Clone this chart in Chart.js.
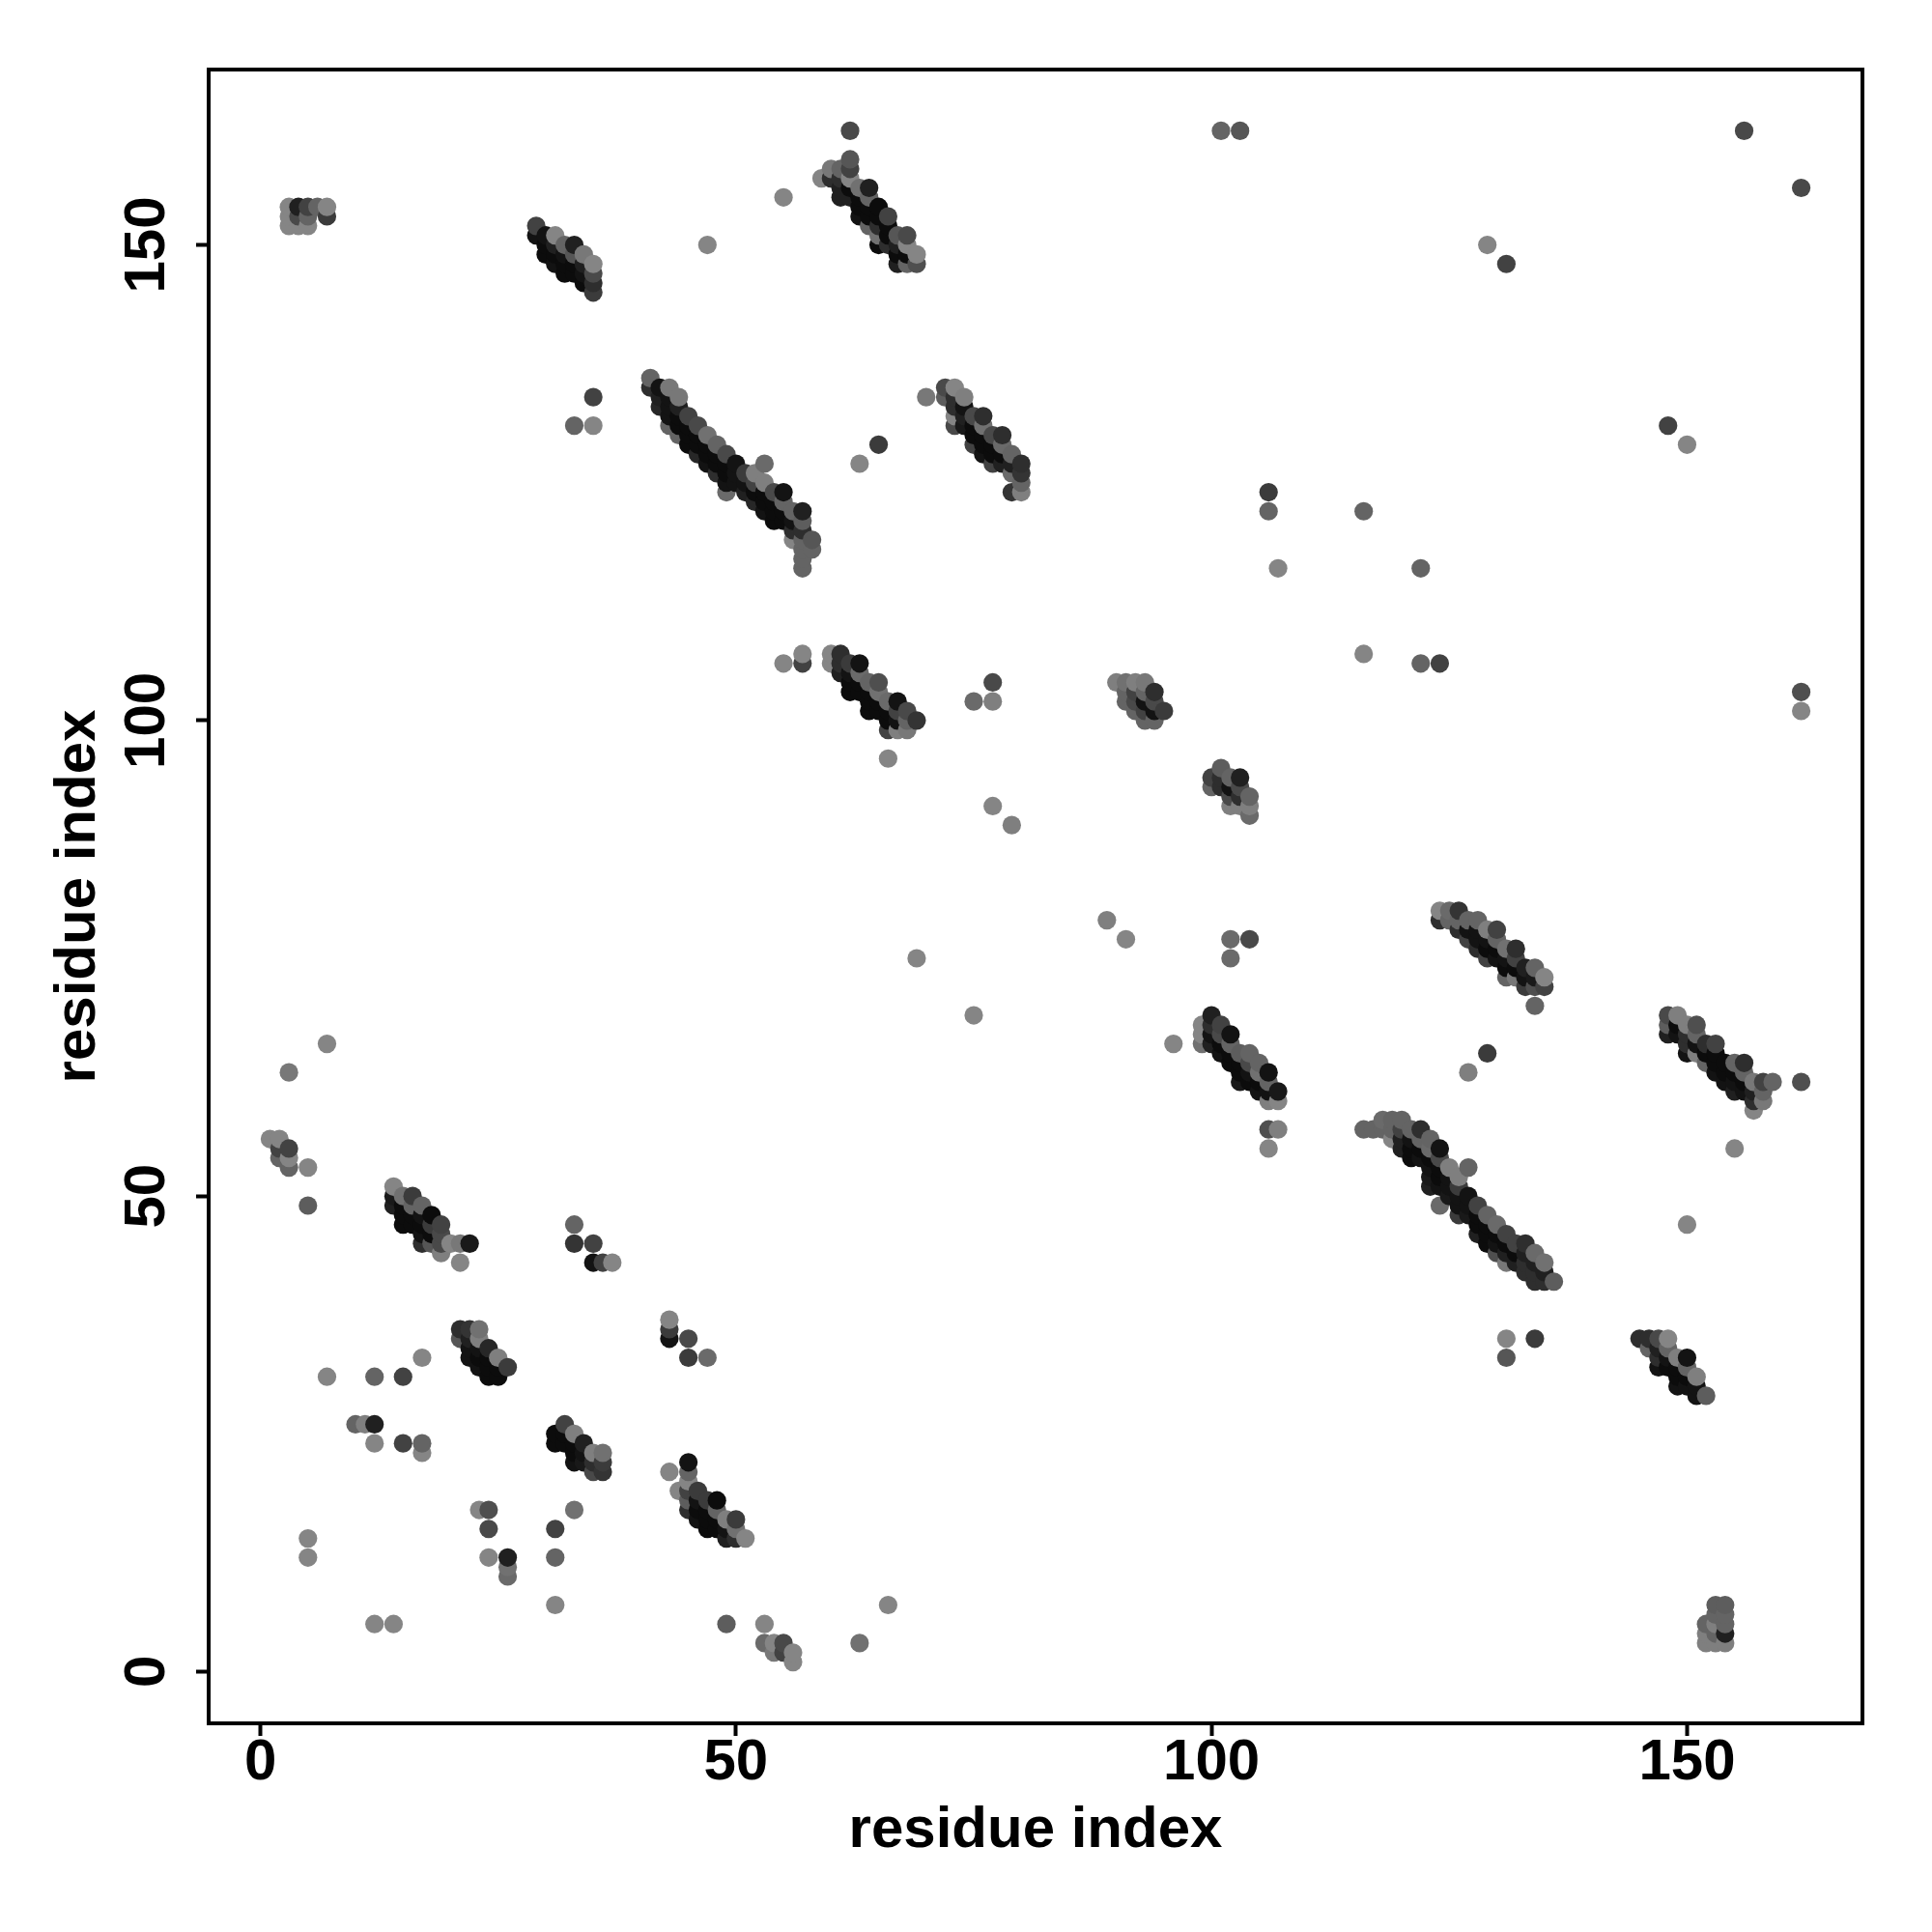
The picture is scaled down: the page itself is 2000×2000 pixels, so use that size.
<!DOCTYPE html>
<html>
<head>
<meta charset="utf-8">
<title>residue contact map</title>
<script src="https://cdn.jsdelivr.net/npm/chart.js@4"></script>
<style>
  html, body { margin: 0; background: #fff; }
  canvas { display: block; }
</style>
</head>
<body>
<canvas id="chart" width="2000" height="2000"></canvas>
<script>
// contacts as [residue x, residue y, score], score 0 = faint, 1 = strong
const tickValues = [0, 50, 100, 150];
const axisLabel = 'residue index';

const strandTopLeft = [[3,154,.05],[3,153,.05],[3,152,.05],[4,154,.8],[4,153,.5],[4,152,.05],[5,154,.55],[5,153,.3],[5,152,.05],[6,154,.3],[7,154,.05],[7,153,.6]];
const strandA = [[29,152,.55],[29,151,.9],[30,151,.9],[30,150,.95],[30,149,.95],[31,151,.05],[31,150,.8],[31,149,.95],[31,148,.9],[32,150,.3],[32,149,.9],[32,148,.95],[32,147,.95],[33,150,.8],[33,149,.4],[33,148,.95],[33,147,.95],[34,149,.15],[34,148,.8],[34,147,.9],[34,146,.95],[35,148,.05],[35,147,.5],[35,146,.7],[35,145,.6]];
const strandTop = [[59,157,.05],[60,158,.15],[60,157,.7],[61,158,.3],[61,157,.7],[61,156,.8],[61,155,.8],[62,159,.4],[62,158,.55],[62,157,.05],[62,156,.95],[62,155,.8],[63,156,.2],[63,155,.95],[63,154,.95],[63,153,.9],[64,156,.8],[64,155,.3],[64,154,.95],[64,153,.95],[64,152,.3],[65,154,.95],[65,153,.95],[65,152,.7],[65,151,.2],[65,150,.95],[66,153,.55],[66,152,.95],[66,151,.95],[66,150,.7],[67,151,.4],[67,150,.8],[67,149,.95],[67,148,.8],[68,151,.5],[68,150,.05],[68,149,.95],[68,148,.3],[69,149,.05],[69,148,.45]];
const strandF = [[41,136,.3],[41,135,.7],[42,135,.9],[42,134,.8],[42,133,.75],[43,135,.15],[43,134,.9],[43,133,.9],[43,132,.9],[43,131,.3],[44,134,.15],[44,133,.8],[44,132,.95],[44,131,.95],[44,130,.3],[45,132,.55],[45,131,.95],[45,130,.95],[45,129,.95],[46,131,.5],[46,130,.95],[46,129,.95],[46,128,.75],[47,130,.2],[47,129,.95],[47,128,.95],[47,127,.9],[48,129,.3],[48,128,.95],[48,127,.95],[48,126,.7],[49,128,.5],[49,127,.95],[49,126,.95],[49,125,.9],[49,124,.25],[50,127,.9],[50,126,.9],[50,125,.9],[51,126,.6],[51,125,.9],[51,124,.8],[52,126,.1],[52,125,.55],[52,124,.95],[52,123,.75],[53,127,.25],[53,125,.1],[53,124,.95],[53,123,.95],[53,122,.9],[54,124,.5],[54,123,.95],[54,122,.95],[54,121,.95],[55,124,.9],[55,123,.3],[55,122,.95],[55,121,.95],[56,122,.3],[56,121,.9],[56,120,.7],[56,119,.05],[57,122,.8],[57,121,.35],[57,120,.7],[57,119,.3],[57,118,.3],[57,117,.3],[57,116,.3],[58,119,.4],[58,118,.3]];
const strandG = [[72,135,.5],[72,134,.35],[73,135,.05],[73,134,.7],[73,133,.7],[73,132,.05],[73,131,.5],[74,134,.1],[74,133,.9],[74,132,.8],[74,131,.85],[75,132,.5],[75,131,.95],[75,130,.95],[75,129,.55],[76,132,.7],[76,131,.2],[76,130,.95],[76,129,.95],[76,128,.9],[77,130,.5],[77,129,.95],[77,128,.95],[77,127,.55],[78,130,.7],[78,129,.25],[78,128,.95],[78,127,.8],[79,128,.3],[79,127,.8],[79,126,.25],[79,124,.65],[80,127,.7],[80,126,.65],[80,125,.3],[80,124,.1]];
const strandH = [[60,107,.05],[60,106,.05],[61,107,.7],[61,106,.7],[61,105,.8],[62,106,.6],[62,105,.9],[62,104,.95],[62,103,.95],[63,106,.9],[63,105,.25],[63,104,.95],[63,103,.95],[64,104,.3],[64,103,.95],[64,102,.95],[64,101,.95],[65,104,.45],[65,103,.2],[65,102,.95],[65,101,.95],[66,102,.25],[66,101,.95],[66,100,.95],[66,99,.55],[67,102,.9],[67,101,.55],[67,100,.9],[67,99,.1],[68,101,.5],[68,100,.3],[68,99,.15],[69,100,.65]];
const strandI = [[90,104,.1],[91,104,.2],[91,103,.3],[91,102,.3],[92,104,.1],[92,103,.55],[92,102,.5],[92,101,.3],[93,104,.15],[93,103,.3],[93,102,.9],[93,101,.55],[93,100,.3],[94,103,.7],[94,102,.5],[94,101,.9],[94,100,.3],[95,101,.6]];
const strandK = [[100,94,.55],[100,93,.3],[101,95,.35],[101,94,.7],[101,93,.7],[102,94,.3],[102,93,.9],[102,92,.5],[102,91,.1],[103,94,.8],[103,93,.5],[103,92,.7],[103,91,.1],[104,92,.3],[104,91,.1],[104,90,.25]];
const strandL = [[99,68,.05],[99,67,.05],[99,66,.2],[100,69,.8],[100,68,.7],[100,67,.9],[100,66,.8],[101,68,.55],[101,67,.5],[101,66,.95],[101,65,.9],[102,67,.9],[102,66,.3],[102,65,.95],[102,64,.95],[103,65,.35],[103,64,.95],[103,63,.95],[103,62,.85],[104,65,.3],[104,64,.5],[104,63,.9],[104,62,.95],[105,64,.3],[105,63,.2],[105,62,.95],[105,61,.9],[106,63,.9],[106,62,.3],[106,61,.9],[106,60,.1],[107,61,.85],[107,60,.05]];
const strandM = [[124,80,.05],[124,79,.7],[125,80,.25],[125,79,.3],[126,80,.65],[126,79,.3],[126,78,.7],[127,79,.3],[127,78,.9],[127,77,.55],[128,79,.3],[128,78,.9],[128,77,.9],[128,76,.7],[129,78,.1],[129,77,.9],[129,76,.95],[129,75,.55],[130,78,.55],[130,77,.3],[130,76,.95],[130,75,.9],[131,76,.2],[131,75,.9],[131,74,.95],[131,73,.3],[132,76,.7],[132,75,.55],[132,74,.95],[132,73,.15],[133,74,.8],[133,73,.9],[133,72,.6],[134,74,.3],[134,73,.85],[134,72,.45],[134,70,.3],[135,73,.05],[135,72,.55]];
const strandN = [[116,57,.3],[117,57,.3],[118,58,.25],[118,57,.3],[119,58,.3],[119,57,.3],[119,56,.05],[120,58,.3],[120,57,.55],[120,56,.8],[120,55,.8],[121,57,.3],[121,56,.9],[121,55,.95],[121,54,.95],[122,57,.7],[122,56,.3],[122,55,.95],[122,54,.9],[123,56,.3],[123,55,.25],[123,54,.95],[123,53,.9],[123,52,.85],[123,51,.8],[124,55,.9],[124,54,.5],[124,53,.95],[124,52,.95],[124,51,.9],[124,49,.25],[125,53,.1],[125,52,.9],[125,51,.9],[125,50,.85],[126,52,.1],[126,51,.6],[126,50,.9],[126,49,.9],[126,48,.6],[127,53,.3],[127,50,.9],[127,49,.9],[127,48,.85],[128,49,.55],[128,48,.95],[128,47,.95],[128,46,.8],[129,48,.3],[129,47,.95],[129,46,.95],[129,45,.95],[130,47,.25],[130,46,.95],[130,45,.9],[130,44,.45],[131,46,.55],[131,45,.95],[131,44,.8],[131,43,.15],[132,45,.55],[132,44,.95],[132,43,.8],[133,45,.7],[133,44,.8],[133,43,.7],[133,42,.7],[134,44,.25],[134,43,.8],[134,42,.7],[134,41,.7],[135,43,.2],[135,42,.8],[135,41,.7],[136,41,.35]];
const strandO = [[145,35,.7],[146,35,.7],[146,34,.3],[147,35,.5],[147,34,.8],[147,33,.7],[147,32,.9],[148,35,.05],[148,34,.3],[148,33,.9],[148,32,.95],[149,33,.1],[149,32,.95],[149,31,.95],[149,30,.9],[150,33,.9],[150,32,.3],[150,31,.95],[150,30,.9],[151,31,.1],[151,30,.9],[151,29,.9],[152,29,.35]];
const strandP = [[148,69,.5],[148,68,.35],[148,67,.8],[149,69,.1],[149,68,.95],[149,67,.9],[150,68,.1],[150,67,.7],[150,66,.7],[150,65,.9],[151,68,.45],[151,67,.3],[151,66,.9],[151,65,.1],[152,66,.7],[152,65,.95],[152,64,.3],[153,66,.55],[153,65,.95],[153,64,.95],[153,63,.9],[154,64,.95],[154,63,.95],[154,62,.9],[155,64,.3],[155,63,.95],[155,62,.9],[155,61,.8],[156,64,.7],[156,63,.3],[156,62,.95],[156,61,.9],[157,62,.15],[157,61,.8],[157,60,.7],[157,59,.05],[158,62,.55],[158,61,.3],[158,60,.15],[159,62,.3]];
const strandB = [[14,51,.05],[14,50,.85],[14,49,.8],[15,50,.2],[15,49,.95],[15,48,.95],[15,47,.95],[16,50,.6],[16,49,.3],[16,48,.95],[16,47,.95],[17,49,.3],[17,48,.9],[17,47,.95],[17,46,.9],[17,45,.7],[18,48,.95],[18,47,.6],[18,46,.95],[18,45,.4],[19,47,.55],[19,46,.5],[19,45,.5],[19,44,.1],[20,45,.05],[21,45,.15],[21,43,.05],[22,45,.85]];
const strandC = [[21,36,.7],[21,35,.4],[22,36,.65],[22,35,.8],[22,34,.9],[22,33,.9],[23,36,.2],[23,35,.1],[23,34,.9],[23,33,.95],[23,32,.9],[24,34,.75],[24,33,.95],[24,32,.95],[24,31,.95],[25,33,.1],[25,32,.95],[25,31,.95],[26,32,.6]];
const strandD = [[31,25,.95],[31,24,.95],[32,26,.55],[32,25,.95],[32,24,.95],[33,25,.1],[33,24,.95],[33,23,.95],[33,22,.9],[34,24,.8],[34,23,.9],[34,22,.85],[35,23,.1],[35,22,.7],[35,21,.5],[36,23,.2],[36,22,.6],[36,21,.65]];
const strandE = [[43,21,.05],[44,19,.05],[45,22,.9],[45,21,.3],[45,20,.05],[45,19,.55],[45,18,.35],[45,17,.7],[46,19,.6],[46,18,.9],[46,17,.95],[46,16,.9],[47,18,.6],[47,17,.95],[47,16,.95],[47,15,.95],[48,18,.95],[48,17,.3],[48,16,.95],[48,15,.95],[49,16,.1],[49,15,.9],[49,14,.8],[50,16,.6],[50,15,.2],[50,14,.7],[51,14,.05]];
const strandQ = [[152,5,.3],[152,4,.1],[152,3,.1],[153,7,.35],[153,6,.3],[153,5,.1],[153,4,.3],[153,3,.1],[154,7,.35],[154,6,.3],[154,5,.3],[154,4,.8],[154,3,.1]];
const looseLeft = [[1,56,.05],[2,56,.05],[2,55,.55],[2,54,.3],[3,55,.55],[3,54,.05],[3,53,.3],[5,53,.05],[5,49,.35],[3,63,.15],[7,66,.05],[33,47,.3],[33,45,.65],[35,45,.55],[35,43,.9],[36,43,.55],[37,43,.05],[7,31,.05],[12,31,.3],[15,31,.55],[17,33,.05],[10,26,.3],[11,26,.1],[12,26,.8],[12,24,.05],[15,24,.55],[17,24,.3],[17,23,.05],[23,17,.05],[24,17,.45],[24,15,.5],[31,15,.55],[33,17,.2],[31,12,.3],[24,12,.05],[26,12,.8],[26,11,.2],[26,10,.25],[5,14,.05],[5,12,.05],[12,5,.05],[14,5,.05],[31,7,.05],[43,37,.05],[43,36,.6],[43,35,.9],[45,35,.5],[45,33,.6],[47,33,.25],[49,5,.35],[53,5,.05],[53,3,.25],[54,3,.05],[54,2,.15],[55,3,.5],[55,2,.55],[56,2,.05],[56,1,.05],[63,3,.2],[66,7,.05]];
const looseMiddle = [[62,162,.5],[55,155,.05],[47,150,.05],[33,131,.3],[35,131,.05],[35,134,.55],[63,127,.05],[65,129,.6],[70,134,.15],[55,106,.05],[57,107,.05],[57,106,.55],[75,102,.25],[77,104,.5],[77,102,.1],[77,91,.05],[79,89,.1],[66,96,.05],[89,79,.1],[91,77,.05],[69,75,.05],[75,69,.05],[96,66,.05],[102,77,.25],[102,75,.25],[104,77,.5],[106,57,.45],[107,57,.1],[106,55,.05],[106,124,.6],[106,122,.3],[107,116,.05]];
const looseRight = [[101,162,.3],[103,162,.4],[156,162,.5],[162,156,.5],[129,150,.05],[131,148,.55],[116,122,.3],[122,116,.3],[116,107,.05],[122,106,.3],[124,106,.55],[148,131,.55],[150,129,.05],[162,103,.45],[162,101,.05],[127,63,.1],[129,65,.6],[162,62,.45],[150,47,.05],[155,55,.05],[131,35,.05],[131,33,.4],[134,35,.6]];

// R style plotting order: by x, then y, so later points sit on top
const contacts = [
  ...strandTopLeft, ...strandA, ...strandTop, ...strandF, ...strandG, ...strandH, ...strandI,
  ...strandK, ...strandL, ...strandM, ...strandN, ...strandO, ...strandP, ...strandB,
  ...strandC, ...strandD, ...strandE, ...strandQ, ...looseLeft, ...looseMiddle, ...looseRight,
].sort((a, b) => a[0] - b[0] || a[1] - b[1]);

function scoreToGray(score) {
  const v = Math.round(140 - 135 * score);
  return `rgb(${v},${v},${v})`;
}

const labelFont = { family: '"Liberation Sans", Arial, sans-serif', size: 60, weight: 'bold' };

// box around the plot and the rotated y tick labels (R las=0 style)
const boxAndLabels = {
  id: 'boxAndLabels',
  afterDraw(chart) {
    const { ctx, chartArea: area, scales } = chart;
    ctx.save();
    ctx.strokeStyle = '#000';
    ctx.lineWidth = 4;
    ctx.strokeRect(area.left, area.top, area.right - area.left, area.bottom - area.top);
    ctx.fillStyle = '#000';
    ctx.font = `bold ${labelFont.size}px ${labelFont.family}`;
    ctx.textAlign = 'center';
    ctx.textBaseline = 'alphabetic';
    tickValues.forEach(v => {
      ctx.save();
      ctx.translate(170, scales.y.getPixelForValue(v));
      ctx.rotate(-Math.PI / 2);
      ctx.fillText(String(v), 0, 0);
      ctx.restore();
    });
    ctx.restore();
  },
};

const axisGrid = { drawOnChartArea: false, tickColor: '#000', tickWidth: 4, tickLength: 13 };
const axisBorder = { color: '#000', width: 4 };
const setTicks = scale => { scale.ticks = tickValues.map(value => ({ value })); };

new Chart(document.getElementById('chart'), {
  type: 'scatter',
  data: {
    datasets: [{
      data: contacts.map(c => ({ x: c[0], y: c[1] })),
      backgroundColor: contacts.map(c => scoreToGray(c[2])),
      pointRadius: 9.6,
      pointBorderWidth: 0,
      pointHoverRadius: 9.6,
    }],
  },
  options: {
    responsive: false,
    animation: false,
    layout: { padding: { left: 45, right: 72, top: 72, bottom: 69 } },
    plugins: { legend: { display: false }, tooltip: { enabled: false } },
    scales: {
      x: {
        type: 'linear',
        min: -5.44,
        max: 168.44,
        afterBuildTicks: setTicks,
        afterFit: s => { s.height = 147; },
        grid: axisGrid,
        border: axisBorder,
        ticks: { color: '#000', font: labelFont, padding: -8, maxRotation: 0, autoSkip: false },
        title: { display: true, text: axisLabel, color: '#000', font: labelFont, padding: 0 },
      },
      y: {
        type: 'linear',
        min: -5.44,
        max: 168.44,
        afterBuildTicks: setTicks,
        afterFit: s => { s.width = 171; },
        grid: axisGrid,
        border: axisBorder,
        ticks: { display: false },
        title: { display: true, text: axisLabel, color: '#000', font: labelFont, padding: 0 },
      },
    },
  },
  plugins: [boxAndLabels],
});
</script>
</body>
</html>
